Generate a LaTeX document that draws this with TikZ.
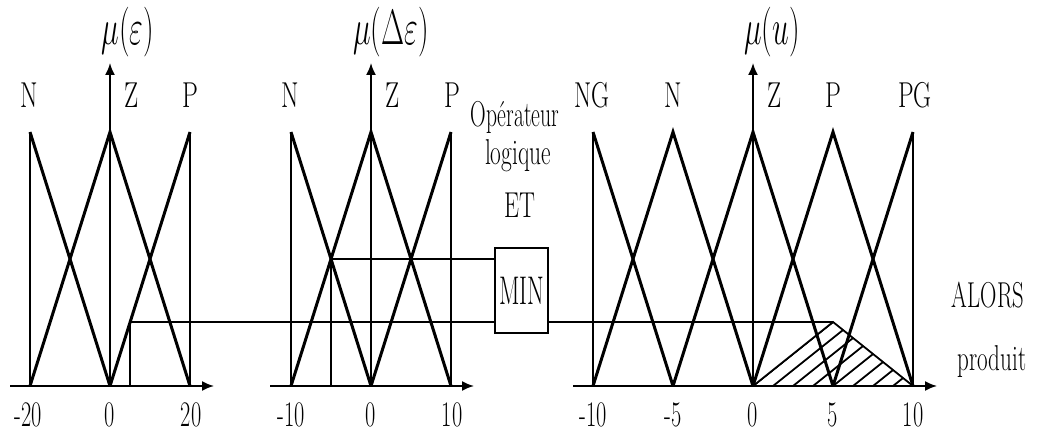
\documentclass[tikz,border=0pt]{standalone}
\usetikzlibrary{arrows.meta}
\newcommand\cnd[2][0.65]{\scalebox{#1}[1]{#2}}
\begin{document}
\begin{tikzpicture}[x=0.5pt,y=-0.5pt,
  thinline/.style={line width=0.7pt},
  mf/.style={line width=1.5pt,line join=miter},
  axis/.style={line width=0.9pt,-{Latex[length=6pt,width=5pt]}},
  lbl/.style={font=\fontsize{18}{20}\selectfont,inner sep=0pt},
  mulbl/.style={font=\fontsize{25}{28}\selectfont,inner sep=0pt},
  tick/.style={font=\fontsize{18}{20}\selectfont,inner sep=0pt}]
\useasboundingbox (0,0) rectangle (1039,432);
% ---------- panel 1 : epsilon ----------
\draw[axis] (10,386) -- (214,386);
\draw[axis] (110,386) -- (110,63);
\draw[thinline] (30,386) -- (30,132) (190,386) -- (190,132);
\draw[mf] (30,132) -- (110,386);
\draw[mf] (30,386) -- (110,132) -- (190,386);
\draw[mf] (110,386) -- (190,132);
\node[mulbl] (mu1) at (128,32) {\cnd[0.6]{$\mu(\varepsilon)$}};
\node[lbl] (n1) at (29,95) {\cnd[0.7]{N}};
\node[lbl] (z1) at (132,95) {\cnd[0.7]{Z}};
\node[lbl] (p1) at (190,95) {\cnd[0.7]{P}};
\node[tick] (t1a) at (28,415) {\cnd[0.62]{-20}};
\node[tick] (t1b) at (110,415) {\cnd[0.62]{0}};
\node[tick] (t1c) at (191,415) {\cnd[0.62]{20}};
% ---------- panel 2 : delta epsilon ----------
\draw[axis] (270,386) -- (474,386);
\draw[axis] (371,386) -- (371,63);
\draw[thinline] (291,386) -- (291,132) (451,386) -- (451,132);
\draw[mf] (291,132) -- (371,386);
\draw[mf] (291,386) -- (371,132) -- (451,386);
\draw[mf] (371,386) -- (451,132);
\node[mulbl] (mu2) at (391,32) {\cnd[0.6]{$\mu(\Delta\varepsilon)$}};
\node[lbl] (n2) at (290,95) {\cnd[0.7]{N}};
\node[lbl] (z2) at (393,95) {\cnd[0.7]{Z}};
\node[lbl] (p2) at (452,95) {\cnd[0.7]{P}};
\node[tick] (t2a) at (291,415) {\cnd[0.62]{-10}};
\node[tick] (t2b) at (371,415) {\cnd[0.62]{0}};
\node[tick] (t2c) at (452,415) {\cnd[0.62]{10}};
% ---------- operator ----------
\node[lbl] (op1) at (515,117) {\cnd[0.6]{Opérateur}};
\node[lbl] (op2) at (518,156) {\cnd[0.65]{logique}};
\node[lbl] (op3) at (520,205) {\cnd[0.66]{ET}};
\node[draw,thinline,minimum width=26.5pt,minimum height=42.5pt,inner sep=0pt,
  font=\fontsize{20}{22}\selectfont] (min) at (521.5,290.5) {\cnd[0.6]{MIN}};
% ---------- panel 3 : u ----------
\draw[axis] (573,386) -- (937,386);
\draw[axis] (753,386) -- (753,63);
\draw[thinline] (593,386) -- (593,132) (913,386) -- (913,132);
\draw[mf] (593,132) -- (673,386);
\draw[mf] (593,386) -- (673,132) -- (753,386);
\draw[mf] (673,386) -- (753,132) -- (833,386);
\draw[mf] (753,386) -- (833,132) -- (913,386);
\draw[mf] (833,386) -- (913,132);
\node[mulbl] (mu3) at (772,32) {\cnd[0.6]{$\mu(u)$}};
\node[lbl] (n3a) at (592,95) {\cnd[0.69]{NG}};
\node[lbl] (n3b) at (673,95) {\cnd[0.7]{N}};
\node[lbl] (n3c) at (775,95) {\cnd[0.7]{Z}};
\node[lbl] (n3d) at (833,95) {\cnd[0.7]{P}};
\node[lbl] (n3e) at (915,95) {\cnd[0.69]{PG}};
\node[tick] (t3a) at (593,415) {\cnd[0.62]{-10}};
\node[tick] (t3b) at (673,415) {\cnd[0.62]{-5}};
\node[tick] (t3c) at (753,415) {\cnd[0.62]{0}};
\node[tick] (t3d) at (833,415) {\cnd[0.62]{5}};
\node[tick] (t3e) at (913,415) {\cnd[0.62]{10}};
\node[lbl] (alors) at (988,295) {\cnd[0.63]{ALORS}};
\node[lbl] (prod) at (992,362) {\cnd[0.64]{produit}};
% ---------- inference ----------
\coordinate (in1) at (130,386);
\coordinate (in2) at (331,386);
\coordinate (out) at (833,322);
\coordinate (o0) at (753,386);
\coordinate (o1) at (913,386);
\draw[thinline] (in1) |- (min.west |- out);
\draw[thinline] (in2) |- (min.west |- 0,259);
\draw[thinline] (min.east |- out) -- (out);
\begin{scope}
  \clip (o0) -- (out) -- (o1) -- cycle;
  \foreach \k in {0,...,8} \draw[line width=0.9pt] (753+20*\k,386) -- ++(120,-96);
\end{scope}
\draw[line width=0.9pt] (o0) -- (out) -- (o1);
\end{tikzpicture}
\end{document}
